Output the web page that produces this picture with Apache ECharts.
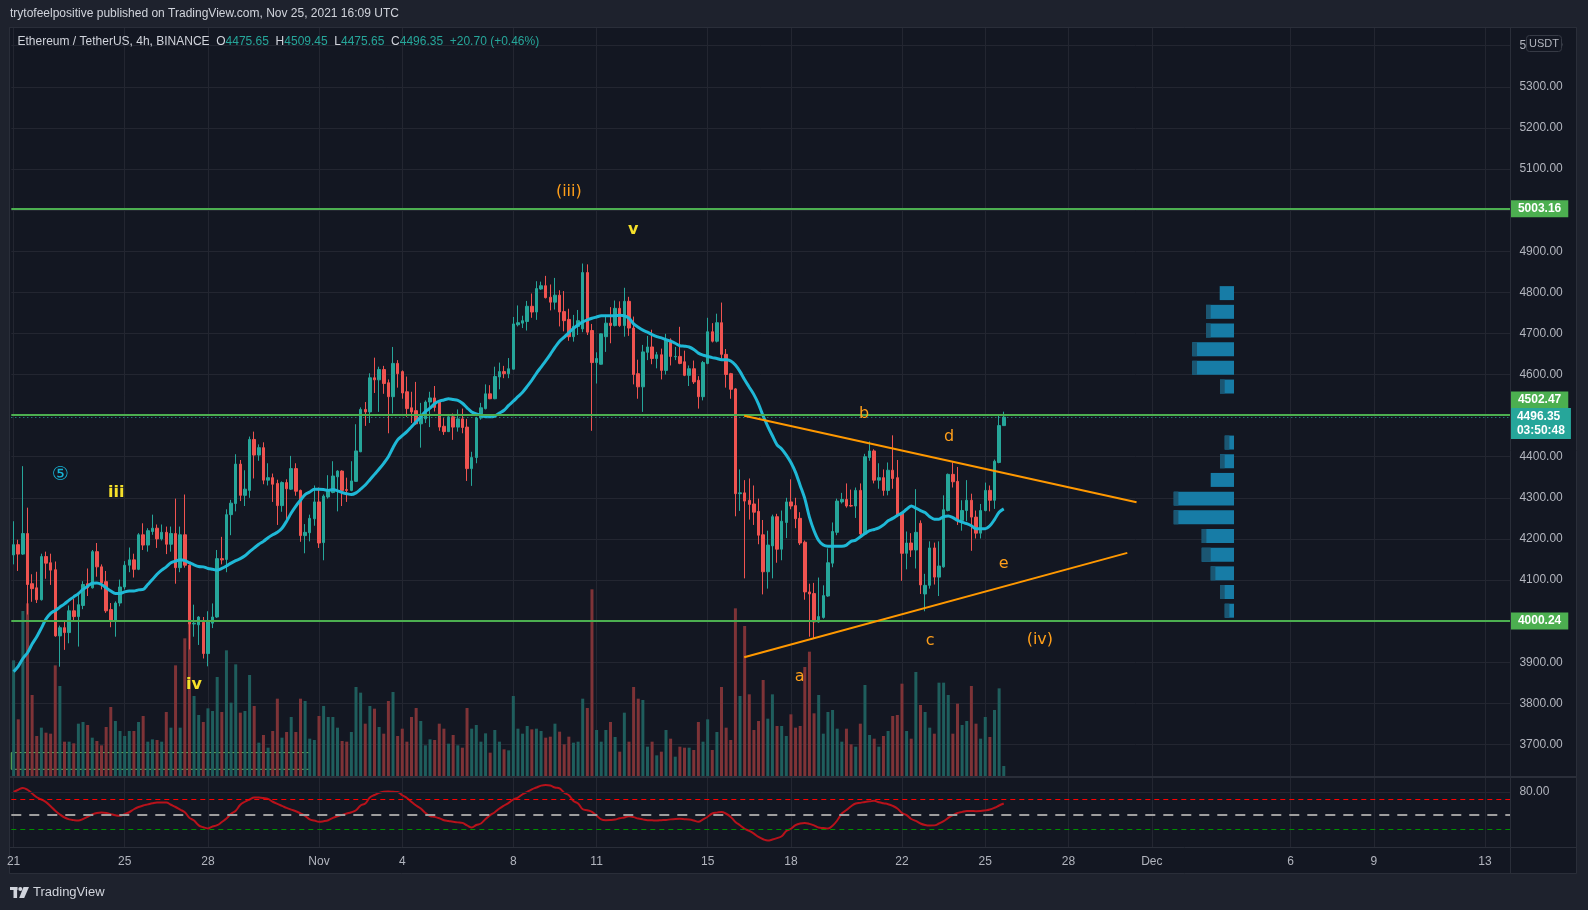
<!DOCTYPE html>
<html><head><meta charset="utf-8">
<script src="https://cdn.jsdelivr.net/npm/echarts@6/dist/echarts.min.js"></script>
<style>html,body{margin:0;padding:0;background:#1e222d;}#c{width:1588px;height:910px;}</style>
</head><body><div id="c"></div>
<script>
// ---------------- DATA ----------------
const opens = [4161,4186,4163,4213,4091,4081,4052,4157,4142,4125,3964,3984,3972,4025,4011,4038,4091,4081,4169,4132,4096,4028,3999,4044,4083,4136,4149,4126,4210,4185,4218,4226,4200,4216,4187,4213,4130,4210,4136,3993,3991,3997,3921,3995,4010,4152,4150,4259,4286,4382,4306,4318,4442,4404,4422,4343,4349,4335,4281,4337,4321,4371,4318,4208,4215,4249,4290,4191,4302,4313,4351,4365,4320,4318,4340,4412,4515,4509,4592,4587,4612,4580,4546,4627,4607,4558,4519,4512,4480,4492,4533,4543,4533,4474,4461,4497,4472,4492,4472,4371,4398,4494,4517,4553,4541,4594,4607,4602,4613,4721,4725,4729,4766,4752,4808,4816,4788,4776,4793,4753,4734,4692,4717,4711,4848,4707,4629,4625,4692,4725,4719,4761,4719,4778,4713,4602,4570,4654,4667,4639,4648,4610,4684,4643,4644,4631,4598,4614,4586,4546,4627,4704,4681,4726,4649,4602,4565,4310,4312,4294,4285,4267,4210,4120,4183,4254,4175,4240,4290,4281,4250,4192,4071,4067,3998,4009,4061,4141,4216,4290,4296,4281,4280,4318,4212,4398,4414,4343,4349,4318,4367,4349,4263,4165,4190,4173,4238,4066,4087,4178,4107,4132,4269,4357,4340,4245,4269,4294,4253,4214,4269,4318,4294,4386,4475.65];
const highs = [4243,4198,4377,4276,4114,4120,4164,4169,4164,4145,3989,3999,4038,4054,4065,4097,4128,4173,4190,4138,4122,4044,4048,4101,4146,4179,4164,4214,4238,4226,4259,4235,4235,4230,4230,4298,4230,4308,4138,4040,4012,4010,4024,4043,4173,4205,4272,4295,4406,4392,4367,4449,4461,4430,4435,4384,4359,4344,4340,4345,4402,4384,4320,4236,4259,4330,4325,4308,4355,4389,4367,4367,4349,4389,4479,4520,4533,4603,4641,4619,4621,4588,4667,4635,4610,4595,4558,4582,4531,4537,4558,4572,4535,4494,4504,4505,4515,4517,4492,4412,4497,4531,4576,4574,4619,4629,4621,4640,4740,4768,4743,4779,4797,4827,4826,4840,4819,4835,4805,4803,4760,4745,4757,4870,4868,4723,4654,4700,4745,4764,4780,4778,4811,4789,4741,4636,4672,4694,4709,4655,4663,4699,4688,4667,4716,4658,4622,4634,4596,4633,4738,4725,4748,4775,4662,4604,4567,4369,4343,4347,4330,4298,4246,4220,4259,4261,4269,4300,4345,4300,4265,4196,4091,4093,4106,4087,4177,4240,4298,4312,4335,4320,4325,4335,4407,4437,4418,4384,4369,4386,4452,4392,4266,4218,4214,4321,4245,4115,4194,4191,4194,4306,4359,4386,4375,4294,4343,4310,4269,4285,4337,4330,4393,4502,4509.45];
const lows = [4138,4122,4161,4016,4047,4044,4050,4103,4088,3962,3889,3930,3946,3999,3938,4029,4061,4079,4108,4077,4020,3985,3962,4036,4077,4119,4106,4124,4173,4169,4210,4178,4196,4163,4169,4091,4119,4130,3931,3962,3942,3909,3890,3983,4008,4138,4119,4209,4267,4292,4280,4300,4347,4390,4333,4330,4290,4234,4266,4243,4319,4305,4193,4165,4194,4232,4178,4148,4298,4311,4267,4280,4290,4316,4339,4411,4475,4482,4555,4509,4553,4457,4505,4568,4541,4497,4482,4478,4422,4482,4472,4510,4463,4453,4460,4441,4461,4457,4341,4329,4384,4490,4515,4540,4540,4564,4591,4591,4612,4717,4713,4707,4738,4733,4806,4785,4756,4758,4717,4705,4682,4680,4696,4703,4696,4463,4578,4624,4655,4676,4717,4716,4692,4694,4576,4541,4509,4635,4625,4615,4588,4600,4622,4635,4625,4596,4572,4577,4517,4537,4625,4678,4678,4633,4568,4541,4255,4268,4104,4247,4234,4187,4065,4079,4104,4142,4148,4202,4272,4226,4185,4052,3962,3958,3996,4006,4059,4131,4209,4286,4276,4278,4251,4209,4209,4390,4335,4322,4305,4306,4322,4253,4098,4126,4156,4128,4066,4024,4079,4089,4061,4130,4267,4325,4234,4220,4243,4171,4201,4201,4267,4267,4273,4384,4475.65];
const closes = [4186,4163,4213,4089,4079,4052,4157,4141,4124,3964,3984,3972,4025,4011,4040,4089,4081,4169,4132,4093,4025,3999,4044,4083,4136,4149,4126,4210,4185,4220,4226,4200,4216,4187,4213,4130,4210,4136,3993,3995,4010,3921,3999,4010,4152,4149,4259,4287,4382,4306,4321,4442,4404,4422,4343,4349,4333,4281,4337,4322,4371,4316,4208,4216,4250,4290,4190,4304,4317,4353,4365,4318,4318,4341,4414,4515,4509,4592,4587,4612,4578,4546,4627,4602,4555,4517,4509,4480,4496,4533,4543,4520,4472,4461,4497,4472,4492,4471,4371,4398,4494,4519,4553,4541,4595,4607,4602,4614,4723,4726,4731,4766,4752,4809,4816,4787,4776,4793,4752,4731,4692,4717,4731,4848,4703,4629,4639,4699,4725,4719,4761,4719,4778,4713,4600,4570,4655,4667,4639,4648,4610,4684,4644,4644,4627,4598,4614,4582,4546,4629,4704,4681,4726,4649,4600,4564,4310,4312,4292,4284,4265,4209,4120,4185,4254,4175,4243,4290,4280,4249,4190,4071,4066,3998,4011,4062,4142,4218,4292,4296,4280,4280,4318,4212,4400,4414,4343,4349,4318,4367,4347,4257,4165,4190,4173,4216,4088,4087,4178,4107,4134,4271,4357,4339,4245,4269,4294,4253,4214,4269,4318,4294,4389,4475.65,4496.35];
const volumes = [347,170,495,518,243,120,145,130,127,332,270,103,103,98,157,162,153,115,105,92,147,207,165,135,120,135,135,162,180,103,110,108,103,192,145,332,145,413,523,240,183,162,203,195,297,192,377,220,335,190,195,303,210,100,123,85,135,232,115,132,177,132,232,225,112,108,180,210,177,177,145,105,103,132,267,250,157,210,202,147,127,225,252,120,142,103,177,204,165,92,110,108,157,142,97,123,92,85,204,142,153,103,128,70,138,103,80,77,240,142,127,150,140,142,135,115,118,157,133,95,118,100,103,232,204,560,138,103,138,162,117,73,190,103,267,232,228,88,103,62,73,138,112,58,88,85,85,78,162,103,170,78,132,267,145,108,503,240,450,245,138,165,288,172,245,150,150,120,185,145,150,327,373,188,243,127,192,198,142,103,142,95,88,157,273,123,112,88,120,135,180,183,277,135,112,312,213,192,145,127,280,280,243,127,217,153,165,270,157,112,177,117,198,263,30];
const maValues = [3877,3890,3909,3923,3944,3962,3983,4005,4019,4026,4034,4042,4051,4059,4067,4077,4085,4092,4093,4089,4081,4073,4067,4067,4071,4073,4073,4076,4077,4089,4101,4114,4124,4132,4142,4146,4149,4147,4142,4137,4133,4132,4128,4126,4124,4128,4134,4141,4147,4152,4159,4169,4178,4187,4194,4203,4210,4216,4226,4243,4263,4280,4294,4308,4314,4321,4321,4320,4318,4320,4317,4313,4310,4308,4312,4321,4331,4344,4357,4370,4384,4400,4422,4441,4451,4461,4473,4485,4497,4510,4518,4529,4535,4538,4541,4539,4537,4530,4519,4509,4504,4501,4497,4497,4499,4506,4513,4525,4535,4546,4557,4571,4586,4603,4618,4633,4649,4666,4681,4691,4702,4712,4721,4728,4733,4737,4740,4743,4743,4743,4743,4744,4743,4737,4723,4715,4708,4703,4697,4692,4689,4685,4681,4676,4670,4669,4667,4661,4652,4647,4644,4641,4639,4636,4636,4633,4623,4607,4587,4569,4551,4528,4499,4474,4451,4429,4419,4404,4386,4362,4330,4298,4253,4220,4196,4185,4182,4182,4182,4182,4185,4194,4197,4205,4213,4220,4223,4227,4234,4244,4250,4257,4263,4272,4280,4275,4269,4264,4254,4248,4248,4254,4256,4252,4245,4241,4237,4232,4225,4225,4225,4232,4247,4265,4273];
const oscValues = [80,83,85.5,83,78,73,70,66.5,61,55,50,46,43.5,42.5,42,44,47,50,52,52.6,52,50.5,49,48.2,50.5,53,57,60,62,63.5,65,66,66,66,63,60,56.5,53,45.5,42,35.5,33,31.5,34,35.7,40,44.6,51,55,63,67,70,72.6,72.6,72,70.8,67,64.1,61.5,58.8,56.5,54.4,51.5,48.2,43.5,42,40.2,41,42.4,45.5,47.7,49.5,51.3,53,55.7,62,64.7,72.6,76,78.8,80.2,80.6,80.2,80,75.7,72,66.8,62,58,52,48,46.8,45,42.4,41.3,40.2,39.5,38.8,35.5,32.6,36,38,44,49.1,53,58,62,65.5,70,72.6,77,80.2,83.5,86,88.5,89.5,88.7,86,84.7,79,75.7,68,64.7,57,55.7,53.5,48.5,43.5,42.4,42.6,43.3,45,46,47.7,46.5,44.6,43.5,42.4,42.2,42,42.4,42.8,43.5,44,44.2,43.8,43.3,42,40.2,43.5,47,51.3,52.5,53.5,51,46.8,40,35.7,31,28.1,24.5,20.1,17,15.3,16.6,18.5,21,28,31,35.7,38,38.8,37.5,35.5,32.6,32,31.3,35,42,51.3,56,61,64.7,65.5,66.8,67.5,68.2,66.4,65,63.7,61.5,58,52,49.1,44,41.5,38,36,35.3,35.5,38,41.1,45.5,49.1,52,53.5,54.8,54.6,54.4,54.6,55.5,56.7,59,62,64.7];
const oscLevels = [70, 50, 30];
const tickDates = ['2021-10-21','2021-10-25','2021-10-28','2021-11-01','2021-11-04','2021-11-08','2021-11-11','2021-11-15','2021-11-18','2021-11-22','2021-11-25','2021-11-28','2021-12-01','2021-12-06','2021-12-09','2021-12-13'];
const tickLabels = ['21','25','28','Nov','4','8','11','15','18','22','25','28','Dec','6','9','13'];
const keyLevels = [5003.16, 4502.47, 4000.24];
const countdown = '03:50:48';
const vpCenters = [4798,4752.5,4707.1,4661.6,4616.2,4570.7,4525.3,4479.8,4434.4,4388.9,4343.5,4298,4252.6,4207.1,4161.7,4116.2,4070.8,4025.3];
const vpTotal = [143,280,280,417,417,140,0,0,93,140,233,603,603,323,323,233,140,93];
const vpDown = [0,47,47,47,47,47,0,0,47,47,0,47,47,47,90,47,47,47];
const waveText = ['(iii)','v','iii','⑤','iv','b','d','e','c','a','(iv)'];
const waveX = [120,133.9,22.2,10.1,39.0,183.8,202.2,214.0,198.1,169.9,221.8];
const waveY = [5045.5,4951.6,4311.7,4355.5,3844.5,4503.9,4447.9,4138.9,3951.6,3865.2,3954];
const waveKind = ['o','y','y','c','y','o','o','o','o','o','o'];
const upperTrend = [[157.9,4499.8],[242.7,4289]];
const lowerTrend = [[157.9,3912],[240.7,4166]];
const boxX = [-0.5, 64.1];
const boxY = [3680, 3639.4];

// ---------------- BUILD ----------------
const N = 324;
const start = Date.UTC(2021, 9, 21);
const cats = [];
for (let k = 0; k < N; k++) cats.push(new Date(start + k * 4 * 3600e3).toISOString().slice(0, 13));
const tickMap = {};
tickDates.forEach((d, j) => { tickMap[d + 'T00'] = tickLabels[j]; });
const isTick = (idx, val) => !!tickMap[val];

const UP = '#26a69a', DOWN = '#ef5350';
const GRID = '#232631', BORDER = '#2a2e39', TXT = '#b2b5be';
const FONT = '"Liberation Sans", Arial, sans-serif';
const CLEAR = 'rgba(0,0,0,0)';
const last = closes.length - 1;
const lastPrice = closes[last];
const chg = closes[last] - closes[last - 1];
const pct = chg / closes[last - 1] * 100;

const candleData = opens.map((o, i) => [o, closes[i], lows[i], highs[i]]);
const volData = volumes.map((v, i) => ({
  value: v,
  itemStyle: { color: closes[i] >= opens[i] ? '#1f5e5d' : '#7e3337' }
}));
const colorOf = { o: '#ff9f1a', y: '#f5e02a', c: '#17b2d4' };
const sizeOf = { o: 16, y: 16, c: 19 };
const waveData = waveText.map((t, k) => ({
  value: [waveX[k], waveY[k]],
  label: { show: true, position: 'inside', formatter: t, color: colorOf[waveKind[k]], opacity: 1,
           fontSize: sizeOf[waveKind[k]], fontWeight: waveKind[k] === 'y' ? 'bold' : 'normal',
           fontFamily: '"DejaVu Sans", ' + FONT }
}));

const gl = 11.3, gr = 1588 - 1510.4;
const tagLabel = (bg, offY, extra) => Object.assign({
  show: true, position: 'right', distance: 0, color: '#ffffff', fontSize: 12, fontWeight: 'bold', opacity: 1,
  backgroundColor: bg, padding: [2, 7, 1, 7], lineHeight: 14, offset: [0, offY], fontFamily: FONT
}, extra || {});

const option = {
  backgroundColor: '#1e222d',
  animation: false,
  textStyle: { fontFamily: FONT },
  grid: [
    { left: gl, right: gr, top: 4.6, height: 780.9 },
    { left: gl, right: gr, top: 576, height: 200 },
    { left: gl, right: gr, top: 777, height: 70.5 },
    { left: 1134, right: 354, top: 4.6, height: 780.9 }
  ],
  xAxis: [
    { type: 'category', gridIndex: 0, data: cats, boundaryGap: true,
      axisLine: { show: false }, axisTick: { show: false }, axisLabel: { show: false },
      splitLine: { show: true, interval: isTick, alignWithLabel: true, lineStyle: { color: GRID, width: 1 } } },
    { type: 'value', gridIndex: 0, min: -0.5, max: N - 0.5, show: false },
    { type: 'category', gridIndex: 1, data: cats, boundaryGap: true, show: false },
    { type: 'category', gridIndex: 2, data: cats, boundaryGap: true,
      axisLine: { show: false }, axisTick: { show: false },
      axisLabel: { show: true, interval: isTick, formatter: v => tickMap[v] || '', color: TXT, fontSize: 12, margin: 8 },
      splitLine: { show: true, interval: isTick, alignWithLabel: true, lineStyle: { color: GRID, width: 1 } } },
    { type: 'value', gridIndex: 3, min: 0, max: 1000, inverse: true, show: false }
  ],
  yAxis: [
    { type: 'value', gridIndex: 0, position: 'right', min: 3600, max: 5500, interval: 100,
      axisLine: { show: false }, axisTick: { show: false },
      axisLabel: { color: TXT, fontSize: 12, margin: 9, formatter: v => v.toFixed(2), showMinLabel: false, showMaxLabel: false },
      splitLine: { show: true, showMinLine: false, showMaxLine: false, lineStyle: { color: GRID, width: 1 } } },
    { type: 'value', gridIndex: 1, min: 0, max: 600, show: false },
    { type: 'value', gridIndex: 2, position: 'right', min: 6, max: 100,
      axisLine: { show: false }, axisTick: { show: false },
      axisLabel: { color: TXT, fontSize: 12, margin: 9, formatter: v => (v === 80 ? '80.00' : ''), showMinLabel: false, showMaxLabel: false },
      splitLine: { show: false } },
    { type: 'value', gridIndex: 3, min: 3600, max: 5500, show: false }
  ],
  series: [
    { name: 'Volume', type: 'bar', xAxisIndex: 2, yAxisIndex: 1, data: volData, barWidth: 3, z: 1, silent: true },
    { name: 'VP', type: 'custom', xAxisIndex: 4, yAxisIndex: 3, z: 2, silent: true, clip: false,
      data: vpCenters.map((c, k) => [vpTotal[k], c, vpDown[k]]),
      renderItem: (params, api) => {
        const tot = api.value(0), c = api.value(1), dn = api.value(2);
        if (!tot) return { type: 'group', children: [] };
        const h = 17;
        const pR = api.coord([0, c + h]);
        const pL = api.coord([tot, c - h]);
        const pD = api.coord([tot - dn, c]);
        const kids = [{ type: 'rect', shape: { x: pL[0], y: pR[1], width: pR[0] - pL[0], height: pL[1] - pR[1] }, style: { fill: '#177ca6' } }];
        if (dn > 0) kids.push({ type: 'rect', shape: { x: pL[0], y: pR[1], width: pD[0] - pL[0], height: pL[1] - pR[1] }, style: { fill: '#1b5672' } });
        return { type: 'group', children: kids };
      } },
    { name: 'ETHUSDT', type: 'candlestick', xAxisIndex: 0, yAxisIndex: 0, data: candleData, barWidth: 3, z: 3,
      itemStyle: { color: UP, color0: DOWN, borderColor: UP, borderColor0: DOWN, borderWidth: 1 } },
    { name: 'MA', type: 'line', xAxisIndex: 0, yAxisIndex: 0, data: maValues, symbol: 'none', smooth: 0.3, z: 4,
      lineStyle: { color: '#1fb8d6', width: 3 } },
    { name: 'Annot', type: 'scatter', xAxisIndex: 1, yAxisIndex: 0, z: 6, symbolSize: 2, clip: false, silent: true,
      itemStyle: { color: CLEAR, opacity: 1 }, data: waveData,
      markLine: { silent: true, symbol: ['none', 'none'], label: { show: false }, animation: false,
        data: [
          { yAxis: keyLevels[0], lineStyle: { color: '#4caf50', width: 2, type: 'solid' } },
          { yAxis: keyLevels[1], lineStyle: { color: '#4caf50', width: 2, type: 'solid' } },
          { yAxis: keyLevels[2], lineStyle: { color: '#4caf50', width: 2, type: 'solid' } },
          { yAxis: lastPrice, lineStyle: { color: UP, width: 1, type: [1, 3] } },
          [{ coord: upperTrend[0], lineStyle: { color: '#ff9800', width: 2, type: 'solid' } }, { coord: upperTrend[1] }],
          [{ coord: lowerTrend[0], lineStyle: { color: '#ff9800', width: 2, type: 'solid' } }, { coord: lowerTrend[1] }]
        ] },
      markArea: { silent: true, data: [[
        { coord: [boxX[0], boxY[0]], itemStyle: { color: CLEAR, borderColor: '#5fb862', borderWidth: 1, opacity: 1 } },
        { coord: [boxX[1], boxY[1]] }
      ]] } },
    { name: 'Tags', type: 'scatter', xAxisIndex: 1, yAxisIndex: 0, z: 20, symbolSize: 1, clip: false, silent: true,
      itemStyle: { color: CLEAR, opacity: 1 },
      data: [
        { value: [N - 0.5, keyLevels[0]], label: tagLabel('#4caf50', 0, { formatter: keyLevels[0].toFixed(2) }) },
        { value: [N - 0.5, keyLevels[2]], label: tagLabel('#4caf50', 0, { formatter: keyLevels[2].toFixed(2) }) },
        { value: [N - 0.5, keyLevels[1]], label: tagLabel('#4caf50', -14.5, { formatter: keyLevels[1].toFixed(2) }) },
        { value: [N - 0.5, lastPrice], label: tagLabel('#26a69a', 6.5, { formatter: lastPrice.toFixed(2) + '\n' + countdown, padding: [2, 6, 1, 6] }) }
      ] },
    { name: 'Osc', type: 'line', xAxisIndex: 3, yAxisIndex: 2, data: oscValues, symbol: 'none', smooth: 0.4, z: 4,
      lineStyle: { color: '#b8121b', width: 2 },
      markLine: { silent: true, symbol: ['none', 'none'], label: { show: false },
        data: [
          { yAxis: 80, lineStyle: { color: GRID, width: 1, type: 'solid' } },
          { yAxis: oscLevels[0], lineStyle: { color: '#ff0000', width: 1, type: [5, 4] } },
          { yAxis: oscLevels[1], lineStyle: { color: '#9e9e9e', width: 2, type: [10, 8] } },
          { yAxis: oscLevels[2], lineStyle: { color: '#008f00', width: 1, type: [5, 4] } }
        ] } }
  ],
  graphic: [
    { type: 'rect', z: -10, silent: true, shape: { x: 9.5, y: 27.5, width: 1567, height: 846 },
      style: { fill: '#131722', stroke: BORDER, lineWidth: 1 } },
    { type: 'rect', z: 50, silent: true, shape: { x: 0, y: 0, width: 1588, height: 27 }, style: { fill: '#1e222d' } },
    { type: 'line', z: 50, silent: true, shape: { x1: 9.5, y1: 27.5, x2: 1576.5, y2: 27.5 }, style: { stroke: BORDER, lineWidth: 1 } },
    { type: 'line', z: 50, silent: true, shape: { x1: 9.5, y1: 777, x2: 1576.5, y2: 777 }, style: { stroke: BORDER, lineWidth: 2 } },
    { type: 'line', z: 50, silent: true, shape: { x1: 9.5, y1: 847.5, x2: 1576.5, y2: 847.5 }, style: { stroke: BORDER, lineWidth: 1 } },
    { type: 'line', z: 50, silent: true, shape: { x1: 1510.5, y1: 27.5, x2: 1510.5, y2: 873.5 }, style: { stroke: BORDER, lineWidth: 1 } },
    { type: 'text', z: 60, silent: true, x: 10, y: 14,
      style: { text: 'trytofeelpositive published on TradingView.com, Nov 25, 2021 16:09 UTC', fill: '#d1d4dc', font: '12px ' + FONT, verticalAlign: 'middle' } },
    { type: 'text', z: 60, silent: true, x: 17.5, y: 42,
      style: {
        text: '{n|Ethereum / TetherUS, 4h, BINANCE}  {n|O}{v|' + opens[last].toFixed(2) + '}  {n|H}{v|' + highs[last].toFixed(2) +
              '}  {n|L}{v|' + lows[last].toFixed(2) + '}  {n|C}{v|' + closes[last].toFixed(2) + '}  {v|' +
              (chg >= 0 ? '+' : '') + chg.toFixed(2) + ' (' + (pct >= 0 ? '+' : '') + pct.toFixed(2) + '%)}',
        verticalAlign: 'middle', font: '12px ' + FONT,
        rich: { n: { fill: '#d1d4dc', font: '12px ' + FONT }, v: { fill: UP, font: '12px ' + FONT } }
      } },
    { type: 'rect', z: 60, silent: true, shape: { x: 1526.5, y: 35.5, width: 35, height: 16, r: 3 },
      style: { fill: '#131722', stroke: '#363a45', lineWidth: 1 } },
    { type: 'text', z: 61, silent: true, x: 1544, y: 43.5,
      style: { text: 'USDT', fill: TXT, font: '11px ' + FONT, align: 'center', verticalAlign: 'middle' } },
    { type: 'group', z: 60, silent: true, children: [
      { type: 'rect', shape: { x: 10, y: 887, width: 7.5, height: 3 }, style: { fill: '#d1d4dc' } },
      { type: 'rect', shape: { x: 13.5, y: 887, width: 3.6, height: 11 }, style: { fill: '#d1d4dc' } },
      { type: 'circle', shape: { cx: 20.3, cy: 889, r: 2 }, style: { fill: '#d1d4dc' } },
      { type: 'polygon', shape: { points: [[23.5, 887], [29, 887], [24.2, 898], [19.2, 898]] }, style: { fill: '#d1d4dc' } }
    ] },
    { type: 'text', z: 60, silent: true, x: 33, y: 892.5,
      style: { text: 'TradingView', fill: '#d1d4dc', font: '13px ' + FONT, verticalAlign: 'middle' } }
  ]
};

const chart = echarts.init(document.getElementById('c'), null, { renderer: 'canvas', width: 1588, height: 910 });
chart.setOption(option);
</script>
</body></html>
